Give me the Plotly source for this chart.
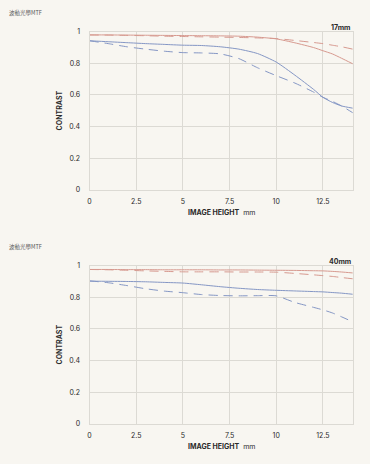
import plotly.graph_objects as go

# ---- data ----
x17 = [0, 1, 2, 3, 4, 5, 6, 7, 8, 9, 10, 11, 12, 12.5, 13, 13.5, 14.1]
r17_solid = [0.980, 0.980, 0.979, 0.978, 0.977, 0.976, 0.975, 0.974, 0.972, 0.966, 0.955, 0.930, 0.900, 0.880, 0.860, 0.832, 0.797]
r17_dash = [0.980, 0.979, 0.977, 0.975, 0.972, 0.970, 0.968, 0.966, 0.964, 0.961, 0.957, 0.945, 0.932, 0.925, 0.915, 0.905, 0.890]
b17_solid = [0.943, 0.937, 0.931, 0.925, 0.920, 0.915, 0.913, 0.905, 0.890, 0.862, 0.808, 0.725, 0.635, 0.585, 0.553, 0.530, 0.516]
b17_dash = [0.943, 0.925, 0.905, 0.890, 0.877, 0.868, 0.866, 0.860, 0.830, 0.772, 0.722, 0.675, 0.618, 0.585, 0.560, 0.530, 0.487]

x40 = [0, 1, 2, 3, 4, 5, 6, 7, 8, 9, 10, 11, 12, 12.5, 13, 13.5, 14.1]
r40_solid = [0.977, 0.977, 0.976, 0.976, 0.975, 0.975, 0.975, 0.974, 0.974, 0.973, 0.972, 0.971, 0.969, 0.968, 0.965, 0.961, 0.955]
r40_dash = [0.977, 0.975, 0.972, 0.968, 0.965, 0.962, 0.962, 0.962, 0.961, 0.961, 0.960, 0.952, 0.943, 0.938, 0.933, 0.926, 0.918]
b40_solid = [0.903, 0.902, 0.901, 0.899, 0.895, 0.891, 0.880, 0.868, 0.858, 0.850, 0.845, 0.841, 0.837, 0.835, 0.831, 0.827, 0.820]
b40_dash = [0.905, 0.893, 0.875, 0.855, 0.840, 0.830, 0.818, 0.812, 0.810, 0.811, 0.810, 0.768, 0.737, 0.721, 0.702, 0.677, 0.645]

x_ticks = [0, 2.5, 5, 7.5, 10, 12.5]
x_tick_labels = ["0", "2.5", "5", "7.5", "10", "12.5"]
y_ticks = [0, 0.2, 0.4, 0.6, 0.8, 1]
y_tick_labels = ["0", "0.2", "0.4", "0.6", "0.8", "1"]

RED = "#d6998f"
BLUE = "#8496c4"
BG = "#f8f6f1"
GRID = "#dcdad4"
FONT = "Inter, Roboto, sans-serif"
TXT = "#2a2a2a"

fig = go.Figure()

def add_set(x, rs, rd, bs, bd, xa, ya):
    for y, c, d in [(rs, RED, "solid"), (rd, RED, "9px,6px"), (bs, BLUE, "solid"), (bd, BLUE, "9px,6px")]:
        fig.add_trace(go.Scatter(x=x, y=y, mode="lines", xaxis=xa, yaxis=ya,
                                 line=dict(color=c, width=1, dash=d, shape="spline", smoothing=0.6),
                                 showlegend=False, hoverinfo="skip"))

add_set(x17, r17_solid, r17_dash, b17_solid, b17_dash, "x", "y")
add_set(x40, r40_solid, r40_dash, b40_solid, b40_dash, "x2", "y2")

W, H = 370, 464
xd = [88 / W, 352.7 / W]
d1 = [(H - 188.3) / H, (H - 27.3) / H]
d2 = [(H - 427) / H, (H - 266) / H]

def xaxis(anchor):
    return dict(domain=xd, range=[0, 14.1], anchor=anchor, tickvals=x_ticks, ticktext=x_tick_labels,
                showgrid=True, gridcolor=GRID, gridwidth=1, showline=True, linecolor=GRID, mirror=True,
                zeroline=False, ticks="outside", ticklen=5, tickcolor="rgba(0,0,0,0)",
                tickfont=dict(family=FONT, size=7, color=TXT), fixedrange=True)

def yaxis(anchor, dom):
    return dict(domain=dom, range=[0, 1], anchor=anchor, tickvals=y_ticks, ticktext=y_tick_labels,
                showgrid=True, gridcolor=GRID, gridwidth=1, showline=True, linecolor=GRID, mirror=True,
                zeroline=False, ticks="outside", ticklen=7, tickcolor="rgba(0,0,0,0)",
                tickfont=dict(family=FONT, size=7, color=TXT), fixedrange=True)

annotations = []
for (top_px, bot_px, lens, title_y) in [(27.3, 188.3, "17mm", 8), (266, 427, "40mm", 247)]:
    annotations.append(dict(text="波動光學MTF", x=5 / W, y=1 - title_y / H, xref="paper", yref="paper",
                            xanchor="left", yanchor="middle", showarrow=False,
                            font=dict(family="Noto Sans CJK TC", size=5.5, color="#555555")))
    annotations.append(dict(text="<b>" + lens + "</b>", x=353 / W, y=1 - (top_px - 4.5) / H, xref="paper", yref="paper",
                            xanchor="right", yanchor="middle", showarrow=False,
                            font=dict(family=FONT, size=7, color=TXT)))
    annotations.append(dict(text="<b>IMAGE HEIGHT</b>  mm", x=220.5 / W, y=1 - (bot_px + 23) / H, xref="paper", yref="paper",
                            xanchor="center", yanchor="middle", showarrow=False,
                            font=dict(family=FONT, size=7, color=TXT)))
    annotations.append(dict(text="<b>CONTRAST</b>", x=58 / W, y=1 - ((top_px + bot_px) / 2) / H, xref="paper", yref="paper",
                            xanchor="center", yanchor="middle", showarrow=False, textangle=-90,
                            font=dict(family=FONT, size=7, color=TXT)))

fig.update_layout(
    width=W, height=H, margin=dict(l=0, r=0, t=0, b=0),
    paper_bgcolor=BG, plot_bgcolor=BG,
    xaxis=xaxis("y"), yaxis=yaxis("x", d1),
    xaxis2=xaxis("y2"), yaxis2=yaxis("x2", d2),
    annotations=annotations,
)

fig.write_html("out.html", config={"displayModeBar": False},
               post_script="document.body.style.margin='0';document.body.style.padding='0';document.body.style.background='%s';" % BG)
